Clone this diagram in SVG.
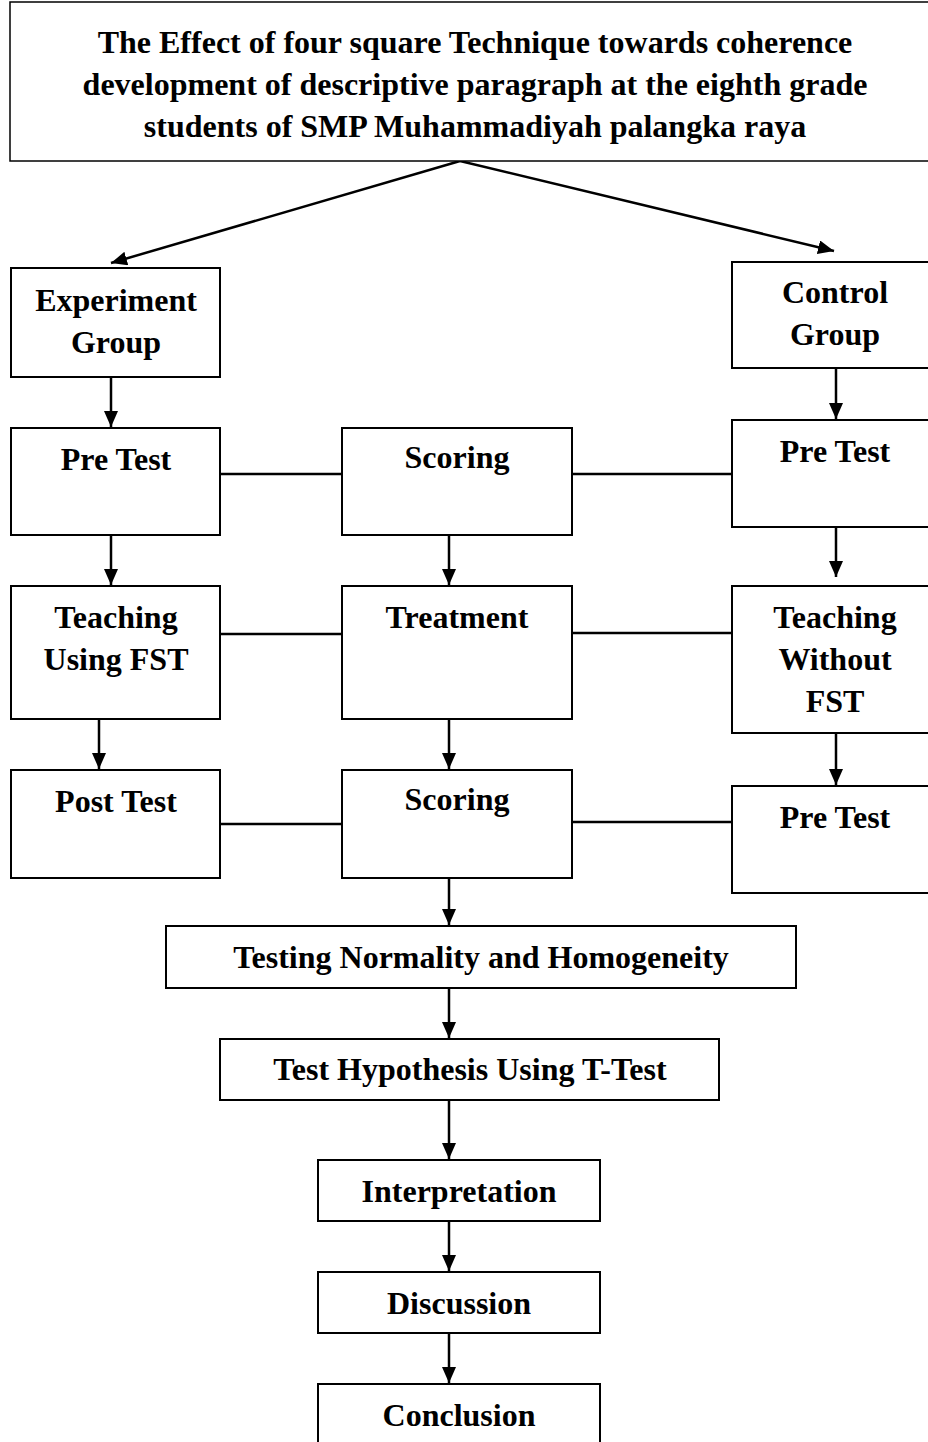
<svg xmlns="http://www.w3.org/2000/svg" width="928" height="1442" viewBox="0 0 928 1442">
<style>
.box{fill:#fff;stroke:#000;stroke-width:2}
.t{font-family:"Liberation Serif","Times New Roman",serif;font-weight:bold;font-size:32px;text-anchor:middle;fill:#000}
.c{stroke:#000;stroke-width:2.5;fill:none}
</style>
<defs>
<marker id="ah" markerWidth="16" markerHeight="14" viewBox="0 0 16 14" refX="16" refY="7" orient="auto" markerUnits="userSpaceOnUse">
<path d="M0,0 L16,7 L0,14 Z" fill="#000"/>
</marker>
</defs>
<rect width="928" height="1442" fill="#fff"/>
<g id="connectors">
<line class="c" x1="460" y1="161" x2="111" y2="263" marker-end="url(#ah)"/>
<line class="c" x1="460" y1="161" x2="834" y2="251" marker-end="url(#ah)"/>
<line class="c" x1="111" y1="378" x2="111" y2="427" marker-end="url(#ah)"/>
<line class="c" x1="836" y1="369" x2="836" y2="419" marker-end="url(#ah)"/>
<line class="c" x1="220" y1="474" x2="342" y2="474"/>
<line class="c" x1="572" y1="474" x2="732" y2="474"/>
<line class="c" x1="111" y1="536" x2="111" y2="585" marker-end="url(#ah)"/>
<line class="c" x1="449" y1="536" x2="449" y2="585" marker-end="url(#ah)"/>
<line class="c" x1="836" y1="528" x2="836" y2="577" marker-end="url(#ah)"/>
<line class="c" x1="220" y1="634" x2="342" y2="634"/>
<line class="c" x1="572" y1="633" x2="732" y2="633"/>
<line class="c" x1="99" y1="720" x2="99" y2="769" marker-end="url(#ah)"/>
<line class="c" x1="449" y1="720" x2="449" y2="769" marker-end="url(#ah)"/>
<line class="c" x1="836" y1="734" x2="836" y2="785" marker-end="url(#ah)"/>
<line class="c" x1="220" y1="824" x2="342" y2="824"/>
<line class="c" x1="572" y1="822" x2="732" y2="822"/>
<line class="c" x1="449" y1="875" x2="449" y2="925" marker-end="url(#ah)"/>
<line class="c" x1="449" y1="988" x2="449" y2="1038" marker-end="url(#ah)"/>
<line class="c" x1="449" y1="1100" x2="449" y2="1159" marker-end="url(#ah)"/>
<line class="c" x1="449" y1="1221" x2="449" y2="1271" marker-end="url(#ah)"/>
<line class="c" x1="449" y1="1333" x2="449" y2="1383" marker-end="url(#ah)"/>
</g>
<g id="title">
<rect class="box" x="10" y="2" width="930" height="159" style="stroke-width:1.5"/>
<text class="t" x="475" y="53">The Effect of four square Technique towards coherence</text>
<text class="t" x="475" y="95">development of descriptive paragraph at the eighth grade</text>
<text class="t" x="475" y="137">students of SMP Muhammadiyah palangka raya</text>
</g>
<g id="experiment-group">
<rect class="box" x="11" y="268" width="209" height="109"/>
<text class="t" x="116" y="311">Experiment</text>
<text class="t" x="116" y="353">Group</text>
</g>
<g id="control-group">
<rect class="box" x="732" y="262" width="210" height="106"/>
<text class="t" x="835" y="303">Control</text>
<text class="t" x="835" y="345">Group</text>
</g>
<g id="pre-test-exp">
<rect class="box" x="11" y="428" width="209" height="107"/>
<text class="t" x="116" y="470">Pre Test</text>
</g>
<g id="scoring-1">
<rect class="box" x="342" y="428" width="230" height="107"/>
<text class="t" x="457" y="468">Scoring</text>
</g>
<g id="pre-test-ctrl">
<rect class="box" x="732" y="420" width="210" height="107"/>
<text class="t" x="835" y="462">Pre Test</text>
</g>
<g id="teaching-fst">
<rect class="box" x="11" y="586" width="209" height="133"/>
<text class="t" x="116" y="628">Teaching</text>
<text class="t" x="116" y="670">Using FST</text>
</g>
<g id="treatment">
<rect class="box" x="342" y="586" width="230" height="133"/>
<text class="t" x="457" y="628">Treatment</text>
</g>
<g id="teaching-without-fst">
<rect class="box" x="732" y="586" width="210" height="147"/>
<text class="t" x="835" y="628">Teaching</text>
<text class="t" x="835" y="670">Without</text>
<text class="t" x="835" y="712">FST</text>
</g>
<g id="post-test">
<rect class="box" x="11" y="770" width="209" height="108"/>
<text class="t" x="116" y="812">Post Test</text>
</g>
<g id="scoring-2">
<rect class="box" x="342" y="770" width="230" height="108"/>
<text class="t" x="457" y="810">Scoring</text>
</g>
<g id="pre-test-ctrl-2">
<rect class="box" x="732" y="786" width="210" height="107"/>
<text class="t" x="835" y="828">Pre Test</text>
</g>
<g id="normality">
<rect class="box" x="166" y="926" width="630" height="62"/>
<text class="t" x="481" y="968">Testing Normality and Homogeneity</text>
</g>
<g id="hypothesis">
<rect class="box" x="220" y="1039" width="499" height="61"/>
<text class="t" x="470" y="1080">Test Hypothesis Using T-Test</text>
</g>
<g id="interpretation">
<rect class="box" x="318" y="1160" width="282" height="61"/>
<text class="t" x="459" y="1202">Interpretation</text>
</g>
<g id="discussion">
<rect class="box" x="318" y="1272" width="282" height="61"/>
<text class="t" x="459" y="1314">Discussion</text>
</g>
<g id="conclusion">
<rect class="box" x="318" y="1384" width="282" height="70"/>
<text class="t" x="459" y="1426">Conclusion</text>
</g>
</svg>
